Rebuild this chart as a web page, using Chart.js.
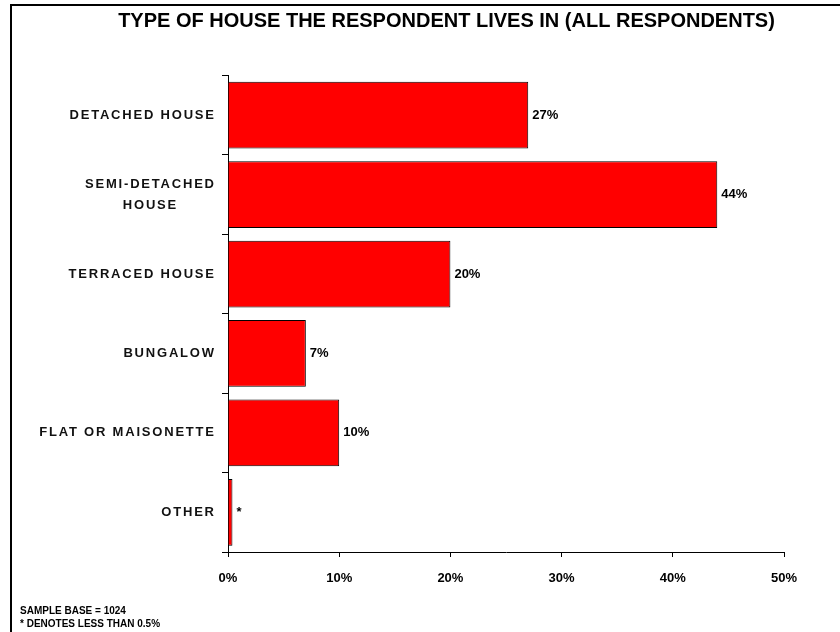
<!DOCTYPE html>
<html>
<head>
<meta charset="utf-8">
<script src="https://cdn.jsdelivr.net/npm/chart.js@4/dist/chart.umd.min.js"></script>
<style>
  html, body { margin: 0; padding: 0; background: #fff; }
  #wrap { width: 840px; height: 632px; position: relative; }
</style>
</head>
<body>
<div id="wrap"><canvas id="c" width="840" height="632"></canvas></div>
<script>
// House types (multi-line entries are wrapped labels)
const categories = [
  ['DETACHED HOUSE'],
  ['SEMI-DETACHED', 'HOUSE'],
  ['TERRACED HOUSE'],
  ['BUNGALOW'],
  ['FLAT OR MAISONETTE'],
  ['OTHER']
];
// Share of respondents, percent
const shares = [27, 44, 20, 7, 10, 0.4];
// Horizontal axis ticks, percent
const xTicks = [0, 10, 20, 30, 40, 50];

const titleText = 'TYPE OF HOUSE THE RESPONDENT LIVES IN (ALL RESPONDENTS)';
const notes = ['SAMPLE BASE = 1024', '* DENOTES LESS THAN 0.5%'];

const FONT = '"Liberation Sans", Arial, Helvetica, sans-serif';

function valueText(v) {
  return v < 0.5 ? '*' : v + '%';
}

// Frame, title, footnotes, category labels and bar value labels
const decorations = {
  id: 'decorations',
  afterDraw(chart) {
    const ctx = chart.ctx;
    const yScale = chart.scales.y;
    ctx.save();

    // frame lines (top and left)
    ctx.fillStyle = '#000';
    ctx.fillRect(10, 4, 830, 2);
    ctx.fillRect(10, 4, 2, 628);

    // title
    ctx.font = 'bold 20px ' + FONT;
    ctx.textAlign = 'center';
    ctx.textBaseline = 'middle';
    ctx.fillStyle = '#000';
    ctx.fillText(titleText, 446.5, 21);

    // footnotes
    ctx.font = 'bold 10px ' + FONT;
    ctx.textAlign = 'left';
    notes.forEach((t, i) => ctx.fillText(t, 20, 611 + i * 13));

    // category labels: block right-aligned, lines centred within the block
    const spacing = 1.8;
    ctx.font = 'bold 13px ' + FONT;
    ctx.letterSpacing = spacing + 'px';
    ctx.fillStyle = '#111';
    const rightEdge = 214;
    const lineGap = 21;
    categories.forEach((lines, i) => {
      const cy = yScale.getPixelForValue(i);
      const widths = lines.map(l => ctx.measureText(l).width - spacing);
      const blockW = Math.max(...widths);
      const blockCx = rightEdge - blockW / 2;
      lines.forEach((l, j) => {
        const y = cy + (j - (lines.length - 1) / 2) * lineGap;
        ctx.textAlign = 'left';
        ctx.fillText(l, blockCx - widths[j] / 2, y);
      });
    });
    ctx.letterSpacing = '0px';

    // value labels at bar ends
    ctx.font = 'bold 13px ' + FONT;
    ctx.fillStyle = '#000';
    ctx.textAlign = 'left';
    const meta = chart.getDatasetMeta(0);
    meta.data.forEach((bar, i) => {
      ctx.fillText(valueText(shares[i]), bar.x + 4, bar.y);
    });
    ctx.restore();
  }
};

new Chart(document.getElementById('c'), {
  type: 'bar',
  data: {
    labels: categories,
    datasets: [{
      data: shares,
      backgroundColor: '#ff0000',
      borderColor: '#000',
      borderWidth: 1,
      categoryPercentage: 1,
      barPercentage: 0.84
    }]
  },
  options: {
    indexAxis: 'y',
    responsive: false,
    animation: false,
    events: [],
    layout: { padding: { top: 75.5, right: 56, bottom: 0, left: 0 } },
    plugins: {
      legend: { display: false },
      title: { display: false },
      tooltip: { enabled: false }
    },
    scales: {
      x: {
        min: 0,
        max: 50,
        afterBuildTicks(scale) {
          scale.ticks = xTicks.map(v => ({ value: v }));
        },
        afterFit(scale) { scale.height = 80; },
        grid: {
          drawOnChartArea: false,
          drawTicks: true,
          tickLength: 5,
          color: '#000'
        },
        border: { display: true, color: '#000', width: 1 },
        ticks: {
          padding: 14,
          color: '#000',
          font: { family: FONT, size: 13, weight: 'bold' },
          maxRotation: 0,
          callback: v => v + '%'
        }
      },
      y: {
        afterFit(scale) { scale.width = 228; },
        grid: {
          drawOnChartArea: false,
          drawTicks: true,
          tickLength: 6,
          offset: true,
          color: '#000'
        },
        border: { display: true, color: '#000', width: 1 },
        ticks: { display: false }
      }
    }
  },
  plugins: [decorations]
});
</script>
</body>
</html>
